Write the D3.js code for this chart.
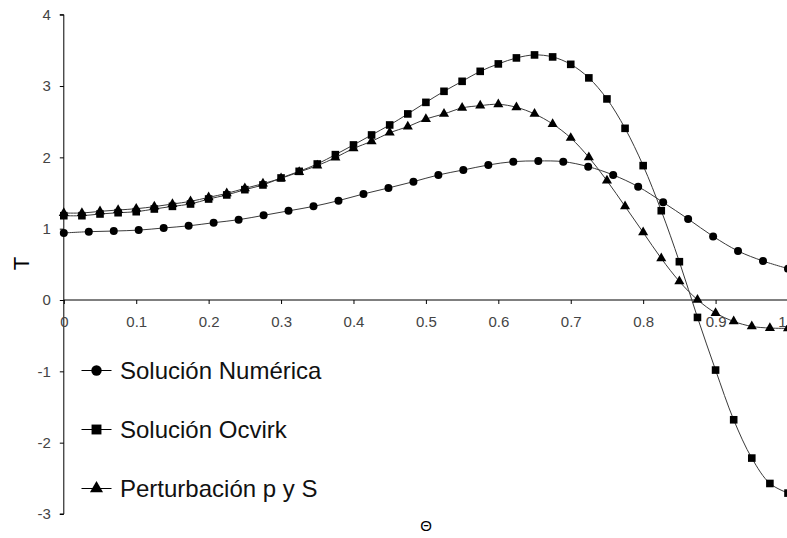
<!DOCTYPE html>
<html><head><meta charset="utf-8">
<script src="https://cdn.jsdelivr.net/npm/d3@7"></script>
<style>
html,body{margin:0;padding:0;background:#fff;overflow:hidden}
svg{display:block;font-family:"Liberation Sans",Arial,sans-serif}
</style></head>
<body><svg id="c" width="787" height="538"></svg>
<script>
const thetaNum = [0,0.0345,0.069,0.1034,0.1379,0.1724,0.2069,0.2414,0.2759,0.3103,0.3448,0.3793,0.4138,0.4483,0.4828,0.5172,0.5517,0.5862,0.6207,0.6552,0.6897,0.7241,0.7586,0.7931,0.8276,0.8621,0.8966,0.931,0.9655,1.0];
const numerica = [0.94,0.958,0.967,0.98,1.01,1.04,1.084,1.126,1.187,1.25,1.313,1.393,1.487,1.571,1.659,1.753,1.823,1.893,1.94,1.95,1.94,1.87,1.753,1.589,1.369,1.136,0.892,0.687,0.547,0.44];
const thetaOcv = [0,0.025,0.05,0.075,0.1,0.125,0.15,0.175,0.2,0.225,0.25,0.275,0.3,0.325,0.35,0.375,0.4,0.425,0.45,0.475,0.5,0.525,0.55,0.575,0.6,0.625,0.65,0.675,0.7,0.725,0.75,0.775,0.8,0.825,0.85,0.875,0.9,0.925,0.95,0.975,1.0];
const ocvirk = [1.182,1.182,1.206,1.224,1.238,1.276,1.313,1.346,1.416,1.473,1.547,1.613,1.711,1.804,1.907,2.038,2.174,2.314,2.454,2.609,2.771,2.926,3.066,3.206,3.31,3.394,3.436,3.408,3.304,3.114,2.819,2.407,1.884,1.252,0.537,-0.244,-0.982,-1.679,-2.216,-2.572,-2.707];
const perturb = [1.22,1.22,1.243,1.262,1.28,1.309,1.346,1.383,1.439,1.495,1.565,1.631,1.706,1.795,1.884,1.996,2.126,2.224,2.346,2.43,2.538,2.609,2.693,2.725,2.744,2.702,2.609,2.468,2.272,2.0,1.673,1.313,0.948,0.583,0.261,0.004,-0.182,-0.3,-0.37,-0.393,-0.398];
const xTicks = [0,0.1,0.2,0.3,0.4,0.5,0.6,0.7,0.8,0.9,1];
const yTicks = [-3,-2,-1,0,1,2,3,4];
const seriesNames = ["Solución Numérica","Solución Ocvirk","Perturbación p y S"];
const xLabel = "Θ", yLabel = "T";

const svg = d3.select("#c");
const x = d3.scaleLinear().domain([0,1]).range([63.8,788]);
const y = d3.scaleLinear().domain([-3,4]).range([514,14.7]);

// Y axis
const ya = svg.append("g").attr("transform",`translate(${x(0)},0)`)
  .call(d3.axisLeft(y).tickValues(yTicks).tickSize(4).tickPadding(9).tickFormat(d => String(d)));
ya.select(".domain").attr("stroke","#000").attr("d",`M-4,${y(4)}H0V${y(-3)}H-4`);
ya.selectAll(".tick line").attr("stroke","#000");
ya.selectAll(".tick text").attr("fill","#444").attr("font-size","15px").attr("font-family","Liberation Sans, Arial");

// X axis at y=0
const xa = svg.append("g").attr("transform",`translate(0,${y(0)})`)
  .call(d3.axisBottom(x).tickValues(xTicks).tickSize(4).tickPadding(12).tickFormat(d => d===0||d===1 ? String(d) : d3.format(".1f")(d)));
xa.select(".domain").attr("stroke","#000").attr("d",`M${x(0)},0H${x(1)+2}`);
xa.selectAll(".tick line").attr("stroke","#000");
xa.selectAll(".tick text").attr("fill","#444").attr("font-size","15px").attr("font-family","Liberation Sans, Arial");
xa.selectAll(".tick text").filter(d => d===1).attr("text-anchor","end").attr("dx", (787 - x(1) - 1) + "px");

// axis titles
svg.append("text").attr("transform","translate(28.5,263.5) rotate(-90)")
  .attr("text-anchor","middle").attr("font-size","22px").attr("fill","#000").text(yLabel);
svg.append("text").attr("x",426).attr("y",531).attr("text-anchor","middle")
  .attr("font-size","15px").attr("fill","#000").text(xLabel);

const line = d3.line().x(d=>x(d[0])).y(d=>y(d[1])).curve(d3.curveCatmullRom.alpha(0.5));
const sets = [
  {xs:thetaNum, ys:numerica, sym:"circle"},
  {xs:thetaOcv, ys:ocvirk, sym:"square"},
  {xs:thetaOcv, ys:perturb, sym:"triangle"}
];
function drawSym(g, sym, cx, cy, s){
  if(sym==="circle") g.append("circle").attr("cx",cx).attr("cy",cy).attr("r",4*s).attr("fill","#000");
  else if(sym==="square") g.append("rect").attr("x",cx-3.8*s).attr("y",cy-3.8*s).attr("width",7.6*s).attr("height",7.6*s).attr("fill","#000");
  else g.append("path").attr("transform",`translate(${cx},${cy})`)
        .attr("d",d3.symbol(d3.symbolTriangle, 44*s*s)()).attr("fill","#000");
}
sets.forEach(s=>{
  const pts = s.xs.map((v,i)=>[v,s.ys[i]]);
  svg.append("path").datum(pts).attr("d",line).attr("fill","none").attr("stroke","#3a3a3a").attr("stroke-width",1);
  const g = svg.append("g");
  pts.forEach(p=>drawSym(g, s.sym, x(p[0]), y(p[1]), 1));
});

// Legend
const legY = [370.5, 429.5, 488.5];
sets.forEach((s,i)=>{
  const g = svg.append("g");
  g.append("line").attr("x1",81.5).attr("x2",111.5).attr("y1",legY[i]).attr("y2",legY[i]).attr("stroke","#000").attr("stroke-width",1);
  drawSym(g, s.sym, 96.5, legY[i], 1.3);
  g.append("text").attr("x",120).attr("y",legY[i]+8.5).attr("font-size","24px").attr("fill","#111").text(seriesNames[i]);
});
</script></body></html>
